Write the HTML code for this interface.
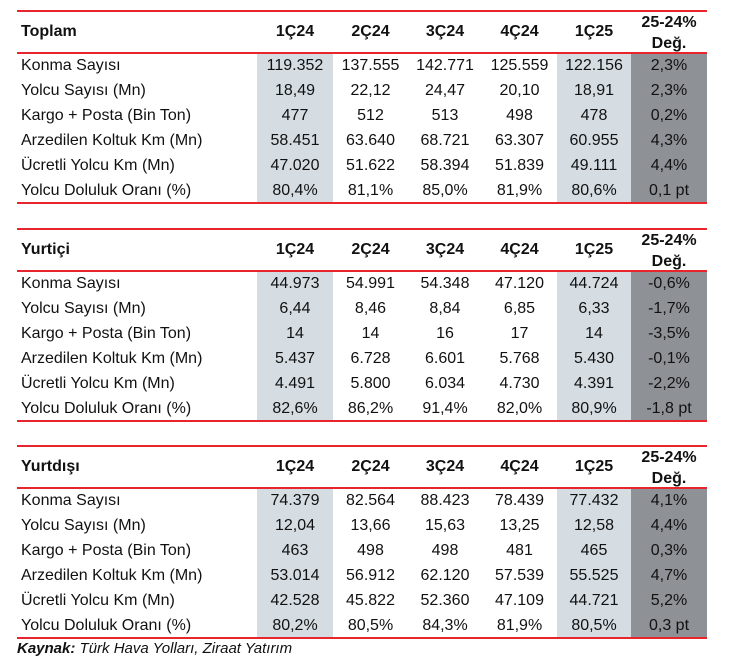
<!DOCTYPE html>
<html><head><meta charset="utf-8">
<style>
body{margin:0;width:739px;height:665px;background:#fff;font-family:"Liberation Sans",Arial,sans-serif;position:relative;overflow:hidden;color:#111}
.a{position:absolute}
.line{position:absolute;left:17px;width:690px;height:2px;background:#e8242c}
.cell{position:absolute;height:25px;line-height:25px;font-size:16px;text-align:center}
.hd{position:absolute;font-weight:bold;font-size:16px;text-align:center}
.lbl{position:absolute;left:21px;height:25px;line-height:25px;font-size:16px}
</style></head><body>
<div id="root"></div>
<div class="a" style="left:17px;top:640px;font-size:15px;font-style:italic">
<b>Kaynak:</b> Türk Hava Yolları, Ziraat Yatırım</div>
<script>
const periods=["1Ç24","2Ç24","3Ç24","4Ç24","1Ç25"];
const rowLabels=["Konma Sayısı","Yolcu Sayısı (Mn)","Kargo + Posta (Bin Ton)","Arzedilen Koltuk Km (Mn)","Ücretli Yolcu Km (Mn)","Yolcu Doluluk Oranı (%)"];
const sectionTitles=["Toplam","Yurtiçi","Yurtdışı"];
const toplam=[["119.352","137.555","142.771","125.559","122.156","2,3%"],["18,49","22,12","24,47","20,10","18,91","2,3%"],["477","512","513","498","478","0,2%"],["58.451","63.640","68.721","63.307","60.955","4,3%"],["47.020","51.622","58.394","51.839","49.111","4,4%"],["80,4%","81,1%","85,0%","81,9%","80,6%","0,1 pt"]];
const yurtici=[["44.973","54.991","54.348","47.120","44.724","-0,6%"],["6,44","8,46","8,84","6,85","6,33","-1,7%"],["14","14","16","17","14","-3,5%"],["5.437","6.728","6.601","5.768","5.430","-0,1%"],["4.491","5.800","6.034","4.730","4.391","-2,2%"],["82,6%","86,2%","91,4%","82,0%","80,9%","-1,8 pt"]];
const yurtdisi=[["74.379","82.564","88.423","78.439","77.432","4,1%"],["12,04","13,66","15,63","13,25","12,58","4,4%"],["463","498","498","481","465","0,3%"],["53.014","56.912","62.120","57.539","55.525","4,7%"],["42.528","45.822","52.360","47.109","44.721","5,2%"],["80,2%","80,5%","84,3%","81,9%","80,5%","0,3 pt"]];
const sections=[toplam,yurtici,yurtdisi];
const tops=[11,229,446];
const colX=[257,333,408,482,557,631,707];
const root=document.getElementById('root');
function mk(cls,style,text){const d=document.createElement('div');d.className=cls;d.style.cssText=style;if(text!=null)d.textContent=text;root.appendChild(d);return d;}
sections.forEach((data,s)=>{
  const t=tops[s],hb=t+42,bot=hb+150;
  const sh1=mk('a',`left:${colX[0]}px;top:${hb}px;width:${colX[1]-colX[0]}px;height:150px;background:#d5dde3`);
  
  
  const sh2=mk('a',`left:${colX[4]}px;top:${hb}px;width:${colX[5]-colX[4]}px;height:150px;background:#d5dde3`);
  
  
  const sh3=mk('a',`left:${colX[5]}px;top:${hb}px;width:${colX[6]-colX[5]}px;height:150px;background:#8e9296`);
  
  
  [t,hb,bot].forEach(y=>{const l=mk('line',`top:${y-1}px`);
    
    });
  const title=mk('hd',`left:21px;top:${t+12}px;text-align:left`,sectionTitles[s]);
  
  
  periods.forEach((p,i)=>{const h=mk('hd',`left:${colX[i]}px;top:${t+12}px;width:${colX[i+1]-colX[i]}px`,p);
    
    });
  const ch=mk('hd',`left:${colX[5]}px;top:${t+1}px;width:${colX[6]-colX[5]}px;line-height:21px`,'');
  ch.innerHTML='25-24%<br>Değ.';
  
  
  rowLabels.forEach((r,ri)=>{const y=hb+ri*25;
    const l=mk('lbl',`top:${y}px`,r);
    
    
    data[ri].forEach((v,ci)=>{const c=mk('cell',`left:${colX[ci]}px;top:${y}px;width:${colX[ci+1]-colX[ci]}px`,v);
      
      });
  });
});
</script>
</body></html>
